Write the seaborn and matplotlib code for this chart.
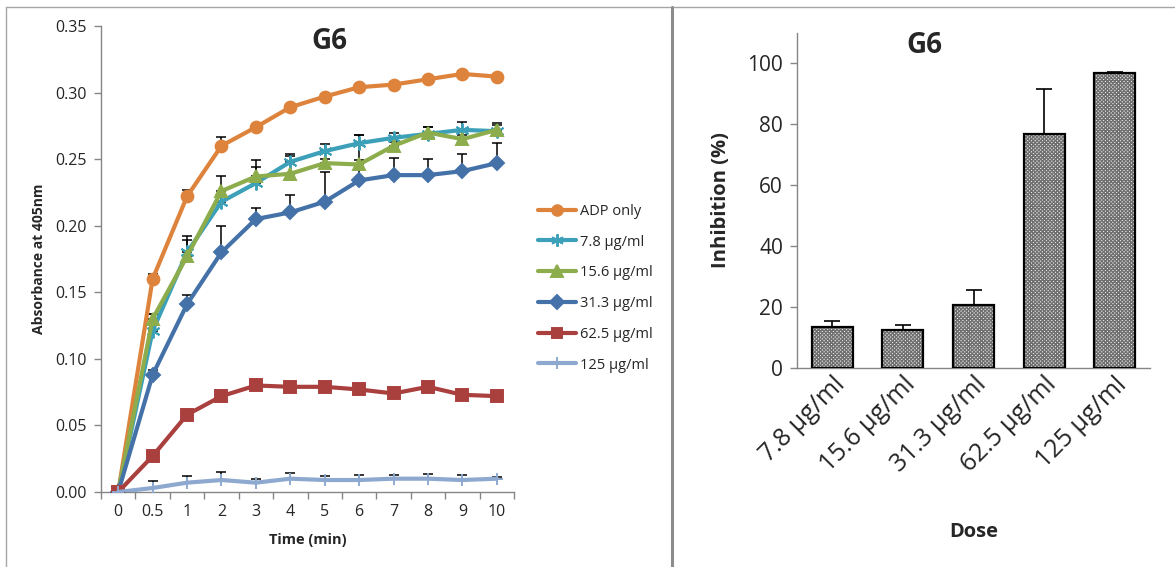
import numpy as np
import pandas as pd
import matplotlib
matplotlib.use("Agg")
import matplotlib.pyplot as plt
from matplotlib.lines import Line2D
from matplotlib.ticker import FormatStrFormatter
import seaborn as sns

# ---- aggregation time course (absorbance at 405 nm) ----
time_labels = ["0", "0.5", "1", "2", "3", "4", "5", "6", "7", "8", "9", "10"]
series_names = ["ADP only", "7.8 µg/ml", "15.6 µg/ml", "31.3 µg/ml", "62.5 µg/ml", "125 µg/ml"]

adp_only = [0.0, 0.160, 0.222, 0.260, 0.274, 0.289, 0.297, 0.304, 0.306, 0.310, 0.314, 0.312]
dose_7_8 = [0.0, 0.121, 0.180, 0.218, 0.232, 0.248, 0.256, 0.262, 0.266, 0.269, 0.272, 0.271]
dose_15_6 = [0.0, 0.130, 0.177, 0.226, 0.237, 0.239, 0.247, 0.246, 0.260, 0.270, 0.265, 0.272]
dose_31_3 = [0.0, 0.088, 0.141, 0.180, 0.205, 0.210, 0.218, 0.234, 0.238, 0.238, 0.241, 0.247]
dose_62_5 = [0.0, 0.027, 0.058, 0.072, 0.080, 0.079, 0.079, 0.077, 0.074, 0.079, 0.073, 0.072]
dose_125 = [0.0, 0.003, 0.007, 0.009, 0.007, 0.010, 0.009, 0.009, 0.010, 0.010, 0.009, 0.010]

err_adp_only = [0.0, 0.004, 0.005, 0.0065, 0.002, 0.002, 0.002, 0.002, 0.002, 0.002, 0.002, 0.002]
err_7_8 = [0.0, 0.013, 0.012, 0.004, 0.012, 0.006, 0.005, 0.006, 0.004, 0.005, 0.006, 0.005]
err_15_6 = [0.0, 0.004, 0.0125, 0.011, 0.0125, 0.013, 0.003, 0.003, 0.003, 0.004, 0.003, 0.005]
err_31_3 = [0.0, 0.004, 0.007, 0.020, 0.008, 0.013, 0.022, 0.034, 0.013, 0.012, 0.013, 0.015]
err_62_5 = [0.0, 0.002, 0.002, 0.002, 0.002, 0.002, 0.002, 0.002, 0.002, 0.002, 0.002, 0.002]
err_125 = [0.0, 0.005, 0.005, 0.006, 0.003, 0.0045, 0.003, 0.004, 0.003, 0.0035, 0.0035, 0.0015]

# ---- inhibition by dose ----
dose_labels = ["7.8 µg/ml", "15.6 µg/ml", "31.3 µg/ml", "62.5 µg/ml", "125 µg/ml"]
inhibition = [13.3, 12.6, 20.7, 77.0, 96.9]
inhibition_err = [2.2, 1.6, 5.0, 14.5, 0.4]

series_values = [adp_only, dose_7_8, dose_15_6, dose_31_3, dose_62_5, dose_125]
series_errors = [err_adp_only, err_7_8, err_15_6, err_31_3, err_62_5, err_125]
series_colors = ["#DE833C", "#3CA0B9", "#8DAD4C", "#4472A8", "#AA403E", "#8EA9D0"]
series_markers = ["o", (6, 2, 0), "^", "D", "s", "+"]
series_msize = [8.5, 10, 9, 7.5, 8.5, 9]

sns.set_theme(style="white")
plt.rcParams["font.family"] = ["Open Sans", "DejaVu Sans"]
plt.rcParams["hatch.linewidth"] = 1.0

fig = plt.figure(figsize=(11.75, 5.67), dpi=100)
W, H = 1175, 567


def fx(px):
    return px / W


def fy(py):
    return 1 - py / H


# panel frames
frame_kw = dict(transform=fig.transFigure, color="#a6a6a6", lw=1.0)
fig.add_artist(Line2D([fx(6), fx(6)], [fy(7), 0], **frame_kw))
fig.add_artist(Line2D([fx(6), 1], [fy(7), fy(7)], **frame_kw))
fig.add_artist(Line2D([fx(672), fx(672)], [fy(7), 0], transform=fig.transFigure,
                      color="#8c8c8c", lw=2.2))

# ================= left: time course =================
ax1 = fig.add_axes([fx(101), fy(492), fx(514) - fx(101), (492 - 26) / H])

long_df = pd.DataFrame({
    "time": np.tile(time_labels, len(series_names)),
    "absorbance": np.concatenate(series_values),
    "series": np.repeat(series_names, len(time_labels)),
})

positions = np.arange(len(time_labels))
for vals, errs in zip(series_values, series_errors):
    ax1.errorbar(positions, vals, yerr=[np.zeros(len(vals)), errs], fmt="none",
                 ecolor="black", elinewidth=1.1, capsize=3.5, capthick=1.1, zorder=1)

sns.pointplot(data=long_df, x="time", y="absorbance", hue="series",
              order=time_labels, hue_order=series_names, palette=series_colors,
              markers=series_markers, linestyles="-", errorbar=None, dodge=False,
              legend=False, ax=ax1, linewidth=3.0)

for line, ms, col in zip(ax1.lines[-len(series_names):], series_msize, series_colors):
    line.set_markersize(ms)
    line.set_markeredgewidth(1.4)
    line.set_markeredgecolor(col)
    line.set_zorder(3)

ax1.set_ylim(0, 0.35)
ax1.set_xlim(-0.5, len(time_labels) - 0.5)
ax1.set_yticks(np.arange(0, 0.351, 0.05))
ax1.yaxis.set_major_formatter(FormatStrFormatter("%.2f"))
ax1.set_xticks(np.arange(len(time_labels) + 1) - 0.5)
ax1.set_xticklabels([])
ax1.set_xticks(positions, minor=True)
ax1.set_xticklabels(time_labels, minor=True)
ax1.tick_params(axis="x", which="major", direction="out", length=5, width=1,
                color="#868686", bottom=True)
ax1.tick_params(axis="x", which="minor", length=0, labelsize=11.5, pad=9)
ax1.tick_params(axis="y", direction="out", length=5, width=1, color="#868686",
                left=True, labelsize=11.5, pad=5)
for s in ["top", "right"]:
    ax1.spines[s].set_visible(False)
for s in ["left", "bottom"]:
    ax1.spines[s].set_color("#868686")
    ax1.spines[s].set_linewidth(1.0)
ax1.set_xlabel("Time (min)", fontsize=10.5, fontweight="bold", labelpad=9)
ax1.set_ylabel("Absorbance at 405nm", fontsize=10, fontweight="bold", labelpad=7)
ax1.text(0.554, 0.966, "G6", transform=ax1.transAxes, fontsize=20,
         fontweight="bold", ha="center", va="center")

handles = [Line2D([0], [0], color=c, lw=3.0, marker=m, markersize=ms * 0.9,
                  markeredgecolor=c, markeredgewidth=1.4)
           for c, m, ms in zip(series_colors, series_markers, series_msize)]
fig.legend(handles, series_names, loc="upper left",
           bbox_to_anchor=(fx(532), fy(198)), frameon=False, fontsize=10.5,
           handlelength=2.6, handletextpad=0.3, labelspacing=1.08,
           borderaxespad=0)

# ================= right: inhibition bars =================
ax2 = fig.add_axes([fx(797), fy(368), fx(1150) - fx(797), (368 - 33) / H])
bar_df = pd.DataFrame({"dose": dose_labels, "inhibition": inhibition})

bar_pos = np.arange(len(dose_labels))
ax2.errorbar(bar_pos, inhibition, yerr=[np.zeros(len(inhibition)), inhibition_err],
             fmt="none", ecolor="black", elinewidth=1.2, capsize=6, capthick=1.2,
             zorder=1)
sns.barplot(data=bar_df, x="dose", y="inhibition", order=dose_labels,
            color="#f2f2f2", width=0.58, hatch="x" * 9, edgecolor="#707070",
            linewidth=0, saturation=1, ax=ax2, zorder=2)
sns.barplot(data=bar_df, x="dose", y="inhibition", order=dose_labels,
            fill=False, width=0.58, edgecolor="black", linewidth=1.6,
            ax=ax2, zorder=3)

ax2.set_ylim(0, 110)
ax2.set_xlim(-0.5, len(dose_labels) - 0.5)
ax2.set_yticks(np.arange(0, 101, 20))
ax2.tick_params(axis="y", direction="out", length=5, width=1, color="#868686",
                left=True, labelsize=15, pad=5)
ax2.tick_params(axis="x", length=0, labelsize=18, pad=3)
plt.setp(ax2.get_xticklabels(), rotation=45, ha="right", rotation_mode="anchor")
for s in ["top", "right"]:
    ax2.spines[s].set_visible(False)
for s in ["left", "bottom"]:
    ax2.spines[s].set_color("#868686")
    ax2.spines[s].set_linewidth(1.0)
ax2.set_xlabel("Dose", fontsize=14.5, fontweight="bold", labelpad=32)
ax2.set_ylabel("Inhibition (%)", fontsize=14.5, fontweight="bold", labelpad=12)
ax2.text(0.36, 0.964, "G6", transform=ax2.transAxes, fontsize=20,
         fontweight="bold", ha="center", va="center")

fig.savefig("out.png", dpi=100)
